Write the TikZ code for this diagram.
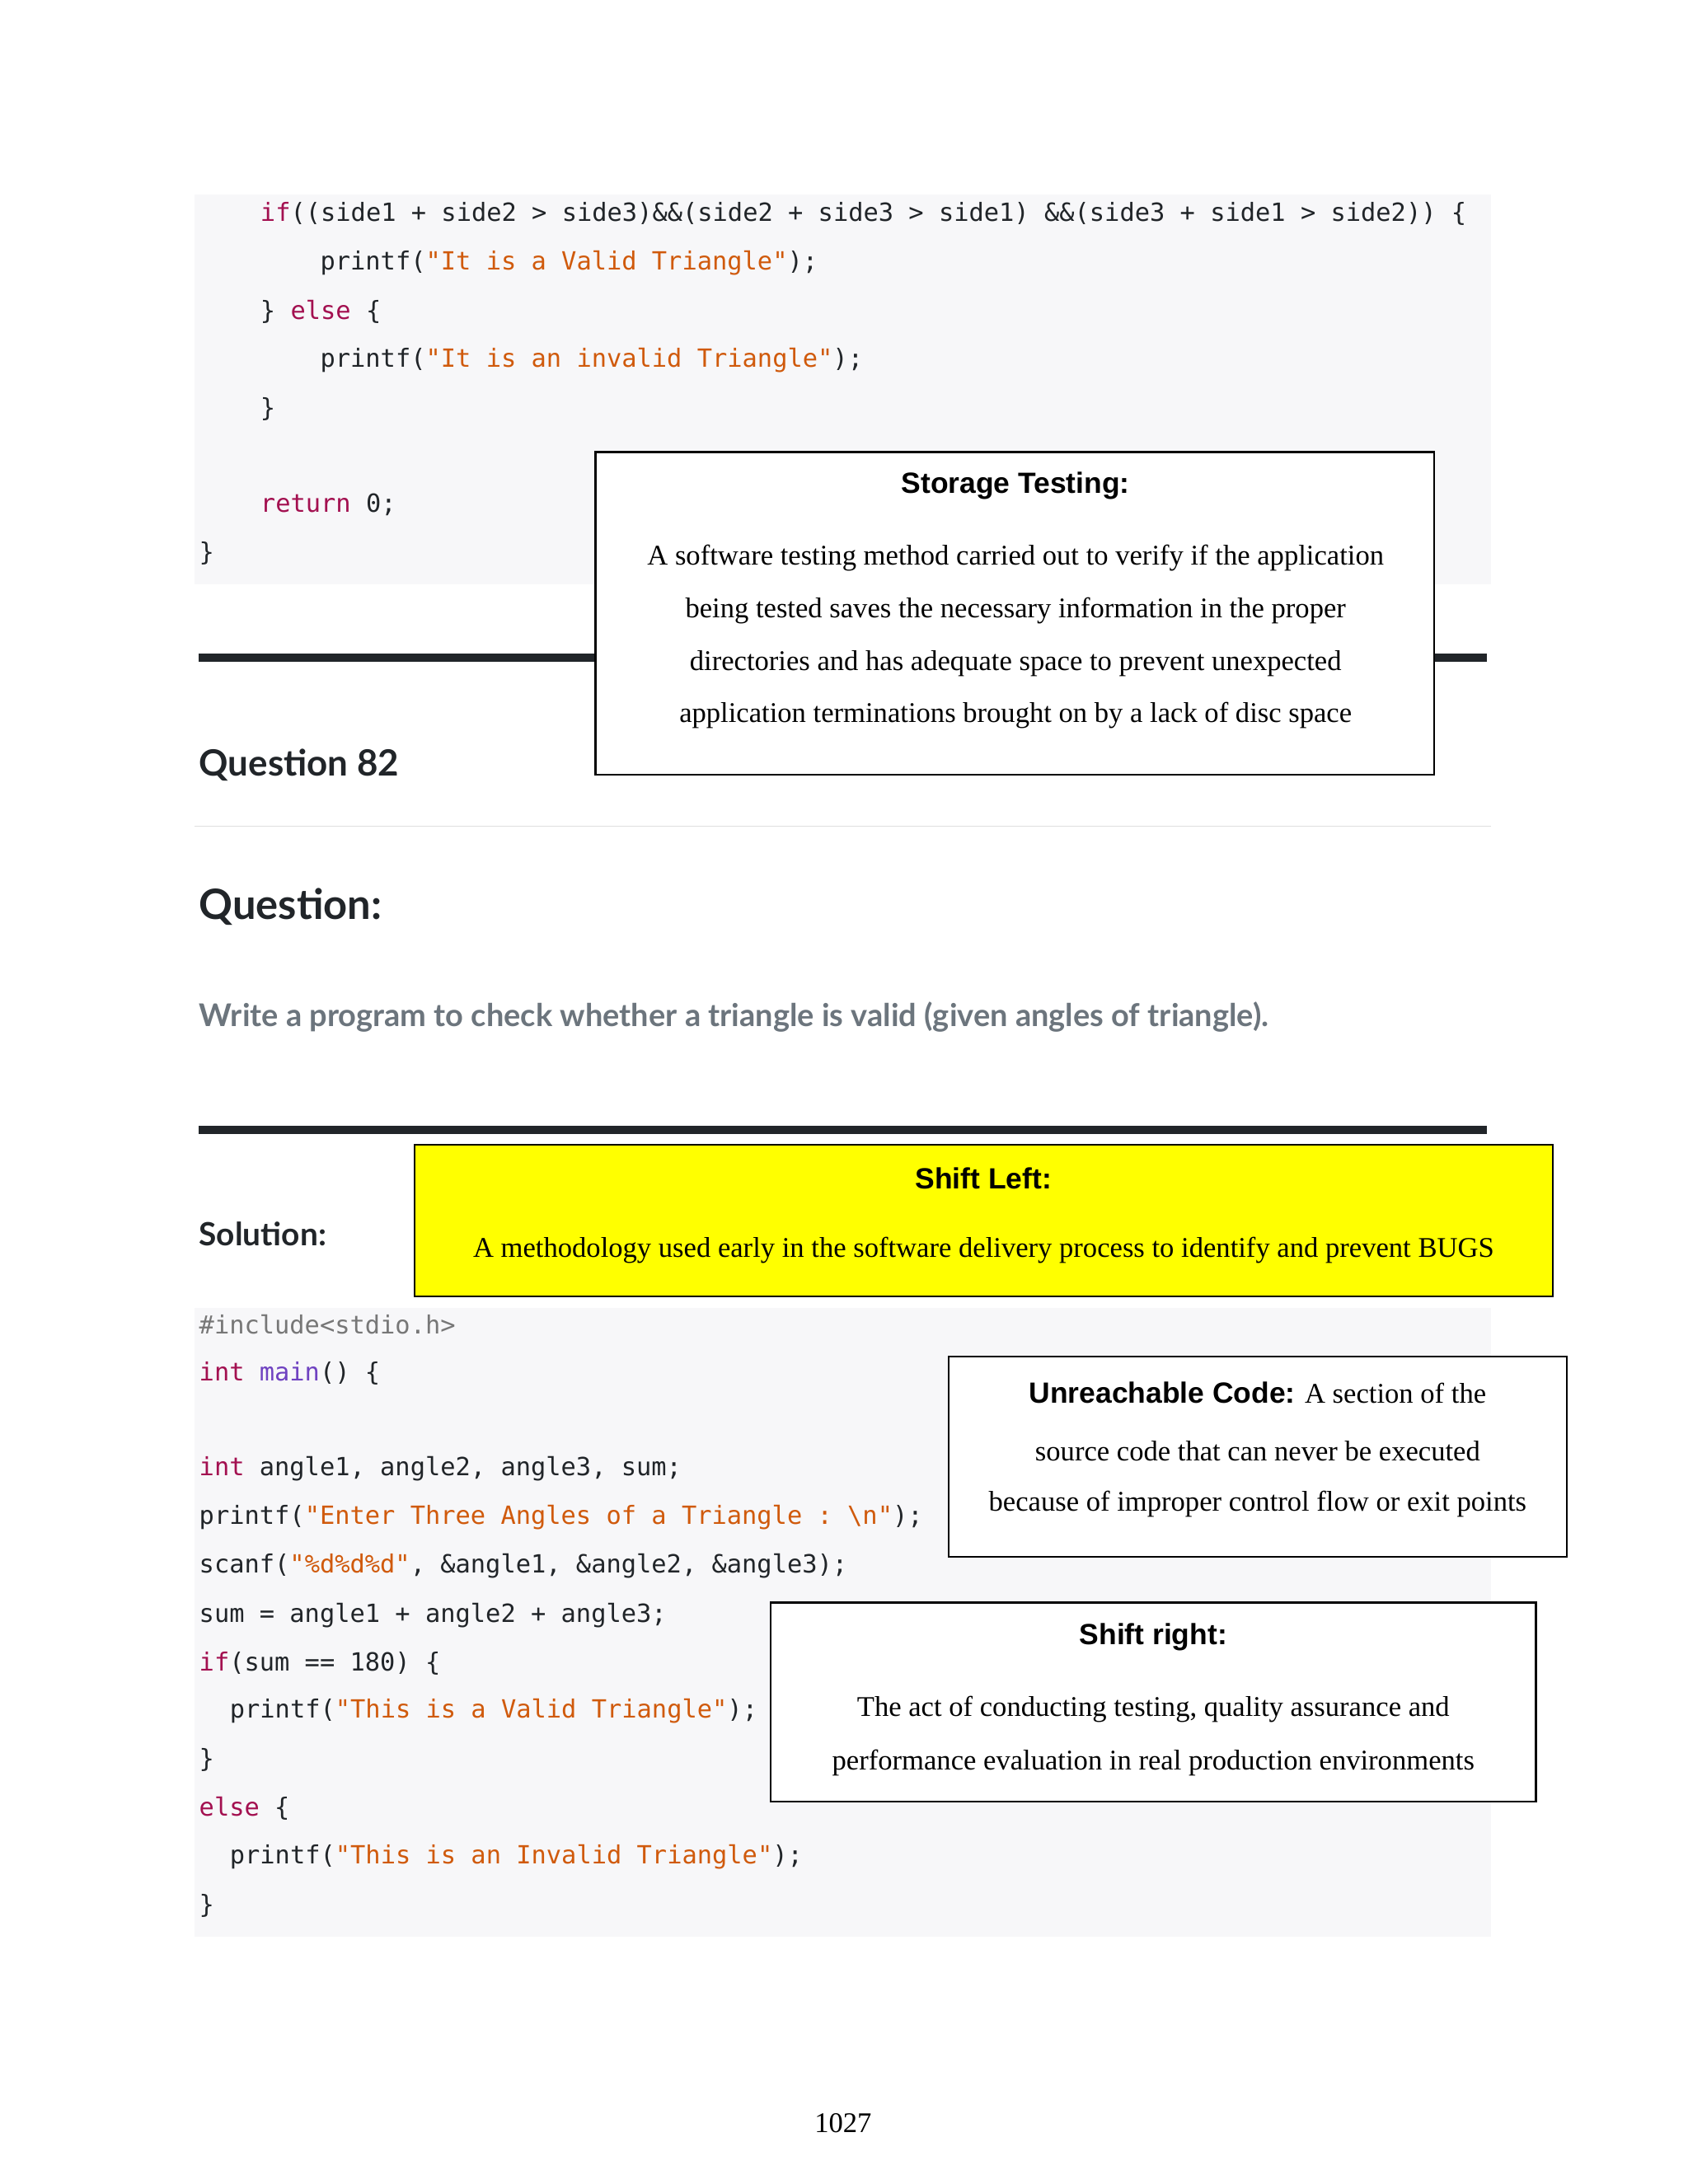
\documentclass[tikz,border=0pt]{standalone}
\usepackage{fontspec}
\setmainfont{Liberation Serif}
\setmonofont{DejaVu Sans Mono}
\newfontfamily\lato{Lato}
\newfontfamily\arial{Liberation Sans}
\definecolor{codebg}{HTML}{F7F7F9}
\definecolor{kw}{HTML}{A31050}
\definecolor{fn}{HTML}{6F42C1}
\definecolor{str}{HTML}{D05A0C}
\definecolor{cmt}{HTML}{777777}
\definecolor{qgray}{HTML}{6C757D}
\definecolor{dark}{HTML}{212529}
\definecolor{hl}{HTML}{FFFF00}
\newcommand{\K}[1]{\textcolor{kw}{#1}}
\newcommand{\Sx}[1]{\textcolor{str}{#1}}
\begin{document}
\begin{tikzpicture}[x=1pt,y=-1pt,
  code/.style={anchor=west,inner sep=0pt,font=\fontsize{18}{20}\selectfont\ttfamily,text=dark},
  head/.style={anchor=west,inner sep=0pt,text=dark},
  defbox/.style={draw=black,line width=1.3pt},
  ttl/.style={inner sep=0pt,font=\fontsize{21}{24}\selectfont\arial\bfseries},
  body/.style={inner sep=0pt,font=\fontsize{20.5}{24}\selectfont}]
\useasboundingbox (0,0) rectangle (1213,1570);
\fill[white] (0,0) rectangle (1213,1570);
% code block 1
\fill[codebg] (140,140) rectangle (1072,420);
\node[code] (c1) at (187,154) {\K{if}((side1 + side2 > side3)\&\&(side2 + side3 > side1) \&\&(side3 + side1 > side2)) \{};
\node[code] (c2) at (230,189) {printf(\Sx{"It is a Valid Triangle"});};
\node[code] (c3) at (187,224) {\} \K{else} \{};
\node[code] (c4) at (230,259) {printf(\Sx{"It is an invalid Triangle"});};
\node[code] (c5) at (187,294) {\}};
\node[code] (c6) at (187,363) {\K{return} 0;};
\node[code] (c7) at (143,398) {\}};
\fill[dark] (143,470) rectangle (1069,476);
% storage testing
\draw[defbox,fill=white] (428,325) rectangle (1031,557);
\node[ttl] (st) at (730,349) {Storage Testing:};
\node[body] (s1) at (730,401) {A software testing method carried out to verify if the application};
\node[body] (s2) at (730,439) {being tested saves the necessary information in the proper};
\node[body] (s3) at (730,477) {directories and has adequate space to prevent unexpected};
\node[body] (s4) at (730,514) {application terminations brought on by a lack of disc space};
\node[head,font=\fontsize{26}{30}\selectfont\lato\bfseries] (q82) at (143,550) {Question 82};
\draw[gray!25,line width=1pt] (140,594) -- (1072,594);
\node[head,font=\fontsize{30}{34}\selectfont\lato\bfseries] (q) at (143,652) {Question:};
\node[head,text=qgray,font=\fontsize{22.5}{26}\selectfont\lato\bfseries] (qt) at (143,731) {Write a program to check whether a triangle is valid (given angles of triangle).};
\fill[dark] (143,809) rectangle (1069,815);
% shift left
\draw[defbox,fill=hl] (298,823) rectangle (1116,932);
\node[ttl] (sl) at (707,847) {Shift Left:};
\node[body] (sl1) at (707,899) {A methodology used early in the software delivery process to identify and prevent BUGS};
\node[head,font=\fontsize{23}{26}\selectfont\lato\bfseries] (sol) at (143,887) {Solution:};
% code block 2
\fill[codebg] (140,940) rectangle (1072,1392);
\node[code,text=cmt] (d1) at (143,952) {\#include<stdio.h>};
\node[code] (d2) at (143,987) {\K{int} \textcolor{fn}{main}() \{};
\node[code] (d3) at (143,1056) {\K{int} angle1, angle2, angle3, sum;};
\node[code] (d4) at (143,1091) {printf(\Sx{"Enter Three Angles of a Triangle : \textbackslash n"});};
\node[code] (d5) at (143,1126) {scanf(\Sx{"\%d\%d\%d"}, \&angle1, \&angle2, \&angle3);};
\node[code] (d6) at (143,1161) {sum = angle1 + angle2 + angle3;};
\node[code] (d7) at (143,1196) {\K{if}(sum == 180) \{};
\node[code] (d8) at (165,1230) {printf(\Sx{"This is a Valid Triangle"});};
\node[code] (d9) at (143,1265) {\}};
\node[code] (d10) at (143,1300) {\K{else} \{};
\node[code] (d11) at (165,1335) {printf(\Sx{"This is an Invalid Triangle"});};
\node[code] (d12) at (143,1370) {\}};
% unreachable
\draw[defbox,fill=white] (682,975) rectangle (1126,1119);
\node[body] (u1) at (904,1001) {{\fontsize{21}{24}\selectfont\arial\bfseries Unreachable Code:} A section of the};
\node[body] (u2) at (904,1043) {source code that can never be executed};
\node[body] (u3) at (904,1081) {because of improper control flow or exit points};
% shift right
\draw[defbox,fill=white] (554,1152) rectangle (1104,1295);
\node[ttl] (sr) at (829,1177) {Shift right:};
\node[body] (sr1) at (829,1229) {The act of conducting testing, quality assurance and};
\node[body] (sr2) at (829,1267) {performance evaluation in real production environments};
\node[body] (pg) at (606,1526) {1027};
\end{tikzpicture}
\end{document}
